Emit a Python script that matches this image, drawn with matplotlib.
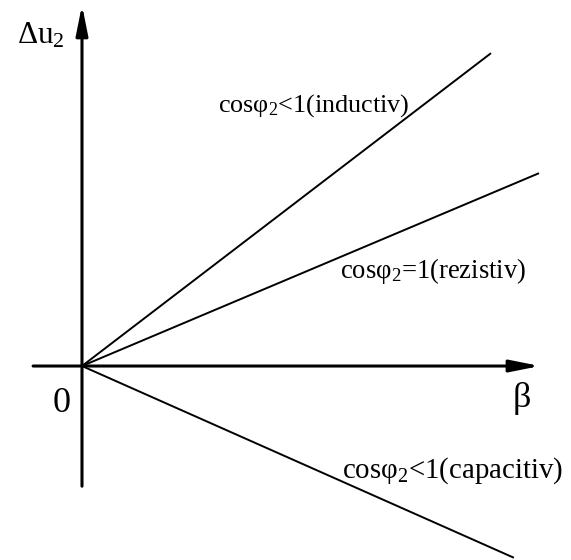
import matplotlib.pyplot as plt

plt.rcParams['font.family'] = ['Liberation Serif', 'DejaVu Serif']
plt.rcParams['mathtext.fontset'] = 'custom'
plt.rcParams['mathtext.rm'] = 'Liberation Serif'
plt.rcParams['mathtext.it'] = 'Liberation Serif'

# voltage drop vs load factor for three load types
labels = ['cosφ$_2$<1(inductiv)', 'cosφ$_2$=1(rezistiv)', 'cosφ$_2$<1(capacitiv)']
slopes = [0.765, 0.422, -0.444]
beta_end = [0.895, 1.0, 0.945]
label_pos = [(0.298, 0.556), (0.565, 0.193), (0.569, -0.245)]
label_size = [18.8, 19.2, 20.8]

fig = plt.figure(figsize=(5.71, 5.6), dpi=100)
ax = fig.add_axes([0, 0, 1, 1])
ax.set_xlim(-0.1794, 1.070)
ax.set_ylim(-0.4245, 0.801)
ax.axis('off')

# axes with arrowheads
arrow = dict(arrowstyle='-|>,head_length=1.0,head_width=0.2', lw=2.2,
             color='black', mutation_scale=18, shrinkA=0, shrinkB=0)
ax.annotate('', xy=(1.002, 0), xytext=(-0.107, 0), arrowprops=arrow)
ax.annotate('', xy=(0, 0.79), xytext=(0, -0.263), arrowprops=arrow)

for k, b, lab, (tx, ty), fs in zip(slopes, beta_end, labels, label_pos, label_size):
    ax.plot([0, b], [0, k * b], color='black', lw=1.4, solid_capstyle='butt')
    ax.text(tx, ty, lab, fontsize=fs, ha='left', va='baseline')

ax.text(-0.142, 0.705, 'Δu$_2$', fontsize=22.5, ha='left', va='baseline')
ax.text(-0.044, -0.1007, '0', fontsize=26, ha='center', va='baseline')
ax.text(0.963, -0.070, 'β', fontsize=26, ha='center', va='center')

fig.savefig('out.png', dpi=100)
